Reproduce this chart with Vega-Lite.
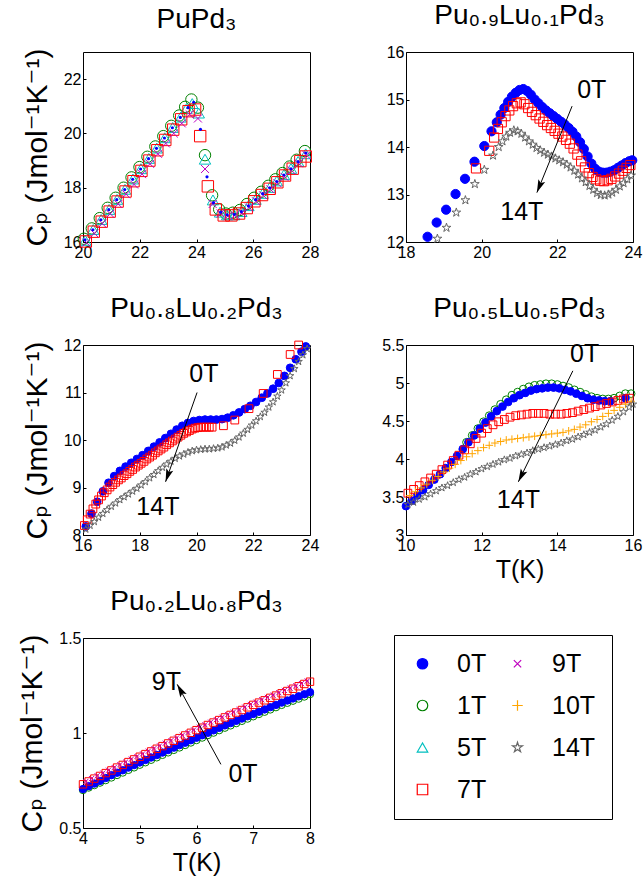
{
"$schema":"https://vega.github.io/schema/vega-lite/v6.json",
"background":"white",
"padding":{"left":17,"top":1,"right":5,"bottom":5},
"config":{
 "font":"Liberation Sans, DejaVu Sans",
 "view":{"stroke":"black","strokeWidth":1},
 "axis":{"domain":false,"grid":false,"format":"~g","labelFont":"Liberation Sans, DejaVu Sans","labelFontSize":16,"labelColor":"black","tickColor":"black","tickSize":-3,"labelPadding":5,"labelFlush":false,"labelOverlap":false,"titleFont":"Liberation Sans, DejaVu Sans","titleFontWeight":"normal","titleColor":"black"},
 "axisY":{"titleFontSize":30,"titlePadding":11},
 "axisX":{"titleFontSize":25,"titlePadding":4},
 "title":{"fontSize":28,"fontWeight":"normal","font":"Liberation Sans, DejaVu Sans","offset":14,"color":"black"},
 "legend":{"orient":"none","legendX":311,"legendY":583,"columns":2,"strokeColor":"black","padding":16,"labelFont":"Liberation Sans","labelFontSize":25,"labelColor":"black","symbolSize":110,"symbolStrokeWidth":1.2,"labelOffset":22,"columnPadding":18,"rowPadding":16}
},
"datasets":{
"p1":[
{"s":"1T","t":20.03,"c":16.12},{"s":"1T","t":20.31,"c":16.5},{"s":"1T","t":20.59,"c":16.88},{"s":"1T","t":20.87,"c":17.26},{"s":"1T","t":21.15,"c":17.63},{"s":"1T","t":21.43,"c":18.0},{"s":"1T","t":21.71,"c":18.38},{"s":"1T","t":21.99,"c":18.76},{"s":"1T","t":22.27,"c":19.14},{"s":"1T","t":22.55,"c":19.52},{"s":"1T","t":22.83,"c":19.9},{"s":"1T","t":23.11,"c":20.28},{"s":"1T","t":23.39,"c":20.66},{"s":"1T","t":23.6,"c":20.98},{"s":"1T","t":23.82,"c":21.25},{"s":"1T","t":24.05,"c":20.95},{"s":"1T","t":24.3,"c":19.2},{"s":"1T","t":24.55,"c":17.72},{"s":"1T","t":24.8,"c":17.2},{"s":"1T","t":25.03,"c":17.05},{"s":"1T","t":25.28,"c":17.08},{"s":"1T","t":25.53,"c":17.18},{"s":"1T","t":25.78,"c":17.4},{"s":"1T","t":26.03,"c":17.63},{"s":"1T","t":26.28,"c":17.85},{"s":"1T","t":26.53,"c":18.07},{"s":"1T","t":26.78,"c":18.31},{"s":"1T","t":27.03,"c":18.54},{"s":"1T","t":27.28,"c":18.78},{"s":"1T","t":27.53,"c":19.03},{"s":"1T","t":27.82,"c":19.35},
{"s":"5T","t":20.08,"c":16.06},{"s":"5T","t":20.36,"c":16.46},{"s":"5T","t":20.64,"c":16.83},{"s":"5T","t":20.92,"c":17.2},{"s":"5T","t":21.2,"c":17.57},{"s":"5T","t":21.48,"c":17.94},{"s":"5T","t":21.76,"c":18.32},{"s":"5T","t":22.04,"c":18.7},{"s":"5T","t":22.32,"c":19.08},{"s":"5T","t":22.6,"c":19.46},{"s":"5T","t":22.88,"c":19.84},{"s":"5T","t":23.16,"c":20.22},{"s":"5T","t":23.44,"c":20.6},{"s":"5T","t":23.65,"c":20.92},{"s":"5T","t":23.85,"c":21.1},{"s":"5T","t":24.08,"c":20.75},{"s":"5T","t":24.3,"c":19.05},{"s":"5T","t":24.58,"c":17.55},{"s":"5T","t":24.83,"c":17.1},{"s":"5T","t":25.08,"c":17.0},{"s":"5T","t":25.33,"c":17.0},{"s":"5T","t":25.58,"c":17.12},{"s":"5T","t":25.83,"c":17.34},{"s":"5T","t":26.08,"c":17.57},{"s":"5T","t":26.33,"c":17.79},{"s":"5T","t":26.58,"c":18.01},{"s":"5T","t":26.83,"c":18.25},{"s":"5T","t":27.08,"c":18.48},{"s":"5T","t":27.33,"c":18.71},{"s":"5T","t":27.58,"c":18.97},{"s":"5T","t":27.85,"c":19.25},
{"s":"7T","t":20.1,"c":16.02},{"s":"7T","t":20.38,"c":16.38},{"s":"7T","t":20.66,"c":16.75},{"s":"7T","t":20.94,"c":17.12},{"s":"7T","t":21.22,"c":17.49},{"s":"7T","t":21.5,"c":17.86},{"s":"7T","t":21.78,"c":18.24},{"s":"7T","t":22.06,"c":18.62},{"s":"7T","t":22.34,"c":19.0},{"s":"7T","t":22.62,"c":19.38},{"s":"7T","t":22.9,"c":19.76},{"s":"7T","t":23.18,"c":20.14},{"s":"7T","t":23.46,"c":20.52},{"s":"7T","t":23.72,"c":20.82},{"s":"7T","t":23.95,"c":20.88},{"s":"7T","t":24.13,"c":19.9},{"s":"7T","t":24.4,"c":18.05},{"s":"7T","t":24.68,"c":17.2},{"s":"7T","t":24.96,"c":16.98},{"s":"7T","t":25.23,"c":16.98},{"s":"7T","t":25.5,"c":17.05},{"s":"7T","t":25.77,"c":17.25},{"s":"7T","t":26.04,"c":17.5},{"s":"7T","t":26.31,"c":17.73},{"s":"7T","t":26.58,"c":17.96},{"s":"7T","t":26.85,"c":18.2},{"s":"7T","t":27.12,"c":18.45},{"s":"7T","t":27.39,"c":18.7},{"s":"7T","t":27.66,"c":18.98},{"s":"7T","t":27.85,"c":19.15},
{"s":"9T","t":20.12,"c":15.98},{"s":"9T","t":20.4,"c":16.32},{"s":"9T","t":20.68,"c":16.68},{"s":"9T","t":20.96,"c":17.04},{"s":"9T","t":21.24,"c":17.4},{"s":"9T","t":21.52,"c":17.76},{"s":"9T","t":21.8,"c":18.12},{"s":"9T","t":22.08,"c":18.5},{"s":"9T","t":22.36,"c":18.88},{"s":"9T","t":22.64,"c":19.25},{"s":"9T","t":22.92,"c":19.63},{"s":"9T","t":23.2,"c":20.0},{"s":"9T","t":23.48,"c":20.37},{"s":"9T","t":23.76,"c":20.7},{"s":"9T","t":24.05,"c":20.55},{"s":"9T","t":24.3,"c":18.69},{"s":"9T","t":24.57,"c":17.4},{"s":"9T","t":24.85,"c":17.05},{"s":"9T","t":25.1,"c":16.95},{"s":"9T","t":25.35,"c":16.98},{"s":"9T","t":25.6,"c":17.07},{"s":"9T","t":25.85,"c":17.27},{"s":"9T","t":26.1,"c":17.5},{"s":"9T","t":26.35,"c":17.72},{"s":"9T","t":26.6,"c":17.94},{"s":"9T","t":26.85,"c":18.17},{"s":"9T","t":27.1,"c":18.4},{"s":"9T","t":27.35,"c":18.64},{"s":"9T","t":27.6,"c":18.9},{"s":"9T","t":27.88,"c":19.2},
{"s":"0T","t":20.07,"c":16.08},{"s":"0T","t":20.35,"c":16.45},{"s":"0T","t":20.63,"c":16.82},{"s":"0T","t":20.91,"c":17.19},{"s":"0T","t":21.19,"c":17.56},{"s":"0T","t":21.47,"c":17.93},{"s":"0T","t":21.75,"c":18.31},{"s":"0T","t":22.03,"c":18.69},{"s":"0T","t":22.31,"c":19.07},{"s":"0T","t":22.59,"c":19.45},{"s":"0T","t":22.87,"c":19.83},{"s":"0T","t":23.15,"c":20.21},{"s":"0T","t":23.43,"c":20.59},{"s":"0T","t":23.7,"c":20.95},{"s":"0T","t":23.9,"c":21.15},{"s":"0T","t":24.14,"c":20.15},{"s":"0T","t":24.37,"c":18.4},{"s":"0T","t":24.6,"c":17.45},{"s":"0T","t":24.85,"c":17.1},{"s":"0T","t":25.08,"c":17.0},{"s":"0T","t":25.33,"c":17.02},{"s":"0T","t":25.58,"c":17.12},{"s":"0T","t":25.83,"c":17.33},{"s":"0T","t":26.08,"c":17.56},{"s":"0T","t":26.33,"c":17.78},{"s":"0T","t":26.58,"c":18.0},{"s":"0T","t":26.83,"c":18.23},{"s":"0T","t":27.08,"c":18.47},{"s":"0T","t":27.33,"c":18.7},{"s":"0T","t":27.58,"c":18.96},{"s":"0T","t":27.85,"c":19.28}
],
"p2":[
{"s":"0T","t":18.57,"c":12.11},{"s":"0T","t":18.81,"c":12.41},{"s":"0T","t":19.06,"c":12.68},{"s":"0T","t":19.31,"c":13.01},{"s":"0T","t":19.56,"c":13.33},{"s":"0T","t":19.81,"c":13.69},{"s":"0T","t":20.07,"c":14.02},{"s":"0T","t":20.26,"c":14.33},{"s":"0T","t":20.4,"c":14.52},{"s":"0T","t":20.5,"c":14.68},{"s":"0T","t":20.6,"c":14.82},{"s":"0T","t":20.7,"c":14.95},{"s":"0T","t":20.8,"c":15.06},{"s":"0T","t":20.9,"c":15.14},{"s":"0T","t":21.0,"c":15.2},{"s":"0T","t":21.1,"c":15.22},{"s":"0T","t":21.2,"c":15.18},{"s":"0T","t":21.3,"c":15.1},{"s":"0T","t":21.4,"c":15.0},{"s":"0T","t":21.5,"c":14.92},{"s":"0T","t":21.6,"c":14.84},{"s":"0T","t":21.7,"c":14.77},{"s":"0T","t":21.8,"c":14.71},{"s":"0T","t":21.9,"c":14.65},{"s":"0T","t":22.0,"c":14.59},{"s":"0T","t":22.1,"c":14.53},{"s":"0T","t":22.2,"c":14.47},{"s":"0T","t":22.3,"c":14.4},{"s":"0T","t":22.4,"c":14.32},{"s":"0T","t":22.5,"c":14.22},{"s":"0T","t":22.6,"c":14.1},{"s":"0T","t":22.7,"c":13.96},{"s":"0T","t":22.8,"c":13.8},{"s":"0T","t":22.9,"c":13.65},{"s":"0T","t":23.0,"c":13.54},{"s":"0T","t":23.1,"c":13.48},{"s":"0T","t":23.2,"c":13.46},{"s":"0T","t":23.3,"c":13.46},{"s":"0T","t":23.4,"c":13.48},{"s":"0T","t":23.5,"c":13.51},{"s":"0T","t":23.6,"c":13.56},{"s":"0T","t":23.7,"c":13.61},{"s":"0T","t":23.8,"c":13.66},{"s":"0T","t":23.9,"c":13.7},{"s":"0T","t":23.98,"c":13.72},
{"s":"7T","t":19.85,"c":13.55},{"s":"7T","t":20.2,"c":13.92},{"s":"7T","t":20.33,"c":14.2},{"s":"7T","t":20.43,"c":14.38},{"s":"7T","t":20.53,"c":14.52},{"s":"7T","t":20.63,"c":14.65},{"s":"7T","t":20.73,"c":14.77},{"s":"7T","t":20.83,"c":14.86},{"s":"7T","t":20.93,"c":14.92},{"s":"7T","t":21.03,"c":14.94},{"s":"7T","t":21.13,"c":14.9},{"s":"7T","t":21.23,"c":14.82},{"s":"7T","t":21.33,"c":14.74},{"s":"7T","t":21.43,"c":14.67},{"s":"7T","t":21.53,"c":14.6},{"s":"7T","t":21.63,"c":14.53},{"s":"7T","t":21.73,"c":14.46},{"s":"7T","t":21.83,"c":14.4},{"s":"7T","t":21.93,"c":14.34},{"s":"7T","t":22.03,"c":14.28},{"s":"7T","t":22.13,"c":14.22},{"s":"7T","t":22.23,"c":14.15},{"s":"7T","t":22.33,"c":14.07},{"s":"7T","t":22.43,"c":13.97},{"s":"7T","t":22.53,"c":13.84},{"s":"7T","t":22.63,"c":13.7},{"s":"7T","t":22.73,"c":13.57},{"s":"7T","t":22.83,"c":13.45},{"s":"7T","t":22.93,"c":13.37},{"s":"7T","t":23.03,"c":13.32},{"s":"7T","t":23.13,"c":13.29},{"s":"7T","t":23.23,"c":13.28},{"s":"7T","t":23.33,"c":13.3},{"s":"7T","t":23.43,"c":13.33},{"s":"7T","t":23.53,"c":13.38},{"s":"7T","t":23.63,"c":13.44},{"s":"7T","t":23.73,"c":13.5},{"s":"7T","t":23.83,"c":13.56},{"s":"7T","t":23.93,"c":13.62},
{"s":"14T","t":18.83,"c":12.07},{"s":"14T","t":19.07,"c":12.3},{"s":"14T","t":19.33,"c":12.62},{"s":"14T","t":19.57,"c":12.88},{"s":"14T","t":19.82,"c":13.22},{"s":"14T","t":20.07,"c":13.52},{"s":"14T","t":20.3,"c":13.82},{"s":"14T","t":20.45,"c":14.0},{"s":"14T","t":20.55,"c":14.12},{"s":"14T","t":20.65,"c":14.22},{"s":"14T","t":20.75,"c":14.3},{"s":"14T","t":20.85,"c":14.35},{"s":"14T","t":20.95,"c":14.33},{"s":"14T","t":21.05,"c":14.28},{"s":"14T","t":21.15,"c":14.2},{"s":"14T","t":21.25,"c":14.12},{"s":"14T","t":21.35,"c":14.05},{"s":"14T","t":21.45,"c":13.98},{"s":"14T","t":21.55,"c":13.93},{"s":"14T","t":21.65,"c":13.88},{"s":"14T","t":21.75,"c":13.84},{"s":"14T","t":21.85,"c":13.8},{"s":"14T","t":21.95,"c":13.76},{"s":"14T","t":22.05,"c":13.72},{"s":"14T","t":22.15,"c":13.68},{"s":"14T","t":22.25,"c":13.63},{"s":"14T","t":22.35,"c":13.57},{"s":"14T","t":22.45,"c":13.5},{"s":"14T","t":22.55,"c":13.42},{"s":"14T","t":22.65,"c":13.34},{"s":"14T","t":22.75,"c":13.26},{"s":"14T","t":22.85,"c":13.18},{"s":"14T","t":22.95,"c":13.1},{"s":"14T","t":23.05,"c":13.03},{"s":"14T","t":23.15,"c":12.99},{"s":"14T","t":23.25,"c":12.98},{"s":"14T","t":23.35,"c":13.0},{"s":"14T","t":23.45,"c":13.04},{"s":"14T","t":23.55,"c":13.1},{"s":"14T","t":23.65,"c":13.17},{"s":"14T","t":23.75,"c":13.24},{"s":"14T","t":23.85,"c":13.32},{"s":"14T","t":23.95,"c":13.4}
],
"p3":[
{"s":"0T","t":16.1,"c":8.18},{"s":"0T","t":16.3,"c":8.45},{"s":"0T","t":16.5,"c":8.7},{"s":"0T","t":16.7,"c":8.92},{"s":"0T","t":16.9,"c":9.1},{"s":"0T","t":17.1,"c":9.24},{"s":"0T","t":17.3,"c":9.35},{"s":"0T","t":17.5,"c":9.44},{"s":"0T","t":17.7,"c":9.52},{"s":"0T","t":17.9,"c":9.6},{"s":"0T","t":18.1,"c":9.68},{"s":"0T","t":18.3,"c":9.77},{"s":"0T","t":18.5,"c":9.86},{"s":"0T","t":18.7,"c":9.95},{"s":"0T","t":18.9,"c":10.04},{"s":"0T","t":19.1,"c":10.13},{"s":"0T","t":19.3,"c":10.22},{"s":"0T","t":19.5,"c":10.3},{"s":"0T","t":19.7,"c":10.36},{"s":"0T","t":19.9,"c":10.4},{"s":"0T","t":20.1,"c":10.42},{"s":"0T","t":20.3,"c":10.43},{"s":"0T","t":20.5,"c":10.43},{"s":"0T","t":20.7,"c":10.43},{"s":"0T","t":20.9,"c":10.44},{"s":"0T","t":21.1,"c":10.47},{"s":"0T","t":21.3,"c":10.52},{"s":"0T","t":21.5,"c":10.58},{"s":"0T","t":21.7,"c":10.65},{"s":"0T","t":21.9,"c":10.72},{"s":"0T","t":22.1,"c":10.8},{"s":"0T","t":22.3,"c":10.89},{"s":"0T","t":22.5,"c":10.98},{"s":"0T","t":22.7,"c":11.08},{"s":"0T","t":22.9,"c":11.2},{"s":"0T","t":23.1,"c":11.35},{"s":"0T","t":23.3,"c":11.52},{"s":"0T","t":23.5,"c":11.7},{"s":"0T","t":23.7,"c":11.86},{"s":"0T","t":23.85,"c":11.97},
{"s":"7T","t":16.05,"c":8.2},{"s":"7T","t":16.15,"c":8.32},{"s":"7T","t":16.25,"c":8.44},{"s":"7T","t":16.35,"c":8.55},{"s":"7T","t":16.45,"c":8.65},{"s":"7T","t":16.55,"c":8.74},{"s":"7T","t":16.65,"c":8.82},{"s":"7T","t":16.75,"c":8.89},{"s":"7T","t":16.85,"c":8.95},{"s":"7T","t":16.95,"c":9.01},{"s":"7T","t":17.05,"c":9.06},{"s":"7T","t":17.15,"c":9.11},{"s":"7T","t":17.25,"c":9.16},{"s":"7T","t":17.35,"c":9.2},{"s":"7T","t":17.45,"c":9.25},{"s":"7T","t":17.55,"c":9.29},{"s":"7T","t":17.65,"c":9.34},{"s":"7T","t":17.75,"c":9.38},{"s":"7T","t":17.85,"c":9.43},{"s":"7T","t":17.95,"c":9.47},{"s":"7T","t":18.05,"c":9.51},{"s":"7T","t":18.15,"c":9.55},{"s":"7T","t":18.25,"c":9.6},{"s":"7T","t":18.35,"c":9.64},{"s":"7T","t":18.45,"c":9.68},{"s":"7T","t":18.55,"c":9.73},{"s":"7T","t":18.65,"c":9.77},{"s":"7T","t":18.75,"c":9.81},{"s":"7T","t":18.85,"c":9.85},{"s":"7T","t":18.95,"c":9.9},{"s":"7T","t":19.05,"c":9.94},{"s":"7T","t":19.15,"c":9.98},{"s":"7T","t":19.25,"c":10.02},{"s":"7T","t":19.35,"c":10.06},{"s":"7T","t":19.45,"c":10.1},{"s":"7T","t":19.55,"c":10.14},{"s":"7T","t":19.65,"c":10.17},{"s":"7T","t":19.75,"c":10.2},{"s":"7T","t":19.85,"c":10.23},{"s":"7T","t":19.95,"c":10.25},{"s":"7T","t":20.05,"c":10.26},{"s":"7T","t":20.15,"c":10.27},{"s":"7T","t":20.25,"c":10.27},{"s":"7T","t":20.35,"c":10.27},{"s":"7T","t":20.45,"c":10.27},{"s":"7T","t":20.55,"c":10.27},{"s":"7T","t":20.95,"c":10.3},{"s":"7T","t":21.35,"c":10.42},{"s":"7T","t":21.85,"c":10.66},{"s":"7T","t":22.35,"c":10.98},{"s":"7T","t":22.85,"c":11.38},{"s":"7T","t":23.3,"c":11.8},{"s":"7T","t":23.6,"c":12.0},
{"s":"14T","t":16.1,"c":8.12},{"s":"14T","t":16.25,"c":8.2},{"s":"14T","t":16.4,"c":8.28},{"s":"14T","t":16.55,"c":8.37},{"s":"14T","t":16.7,"c":8.45},{"s":"14T","t":16.85,"c":8.53},{"s":"14T","t":17.0,"c":8.6},{"s":"14T","t":17.15,"c":8.67},{"s":"14T","t":17.3,"c":8.74},{"s":"14T","t":17.45,"c":8.8},{"s":"14T","t":17.6,"c":8.86},{"s":"14T","t":17.75,"c":8.92},{"s":"14T","t":17.9,"c":8.98},{"s":"14T","t":18.05,"c":9.05},{"s":"14T","t":18.2,"c":9.12},{"s":"14T","t":18.35,"c":9.2},{"s":"14T","t":18.5,"c":9.27},{"s":"14T","t":18.65,"c":9.35},{"s":"14T","t":18.8,"c":9.42},{"s":"14T","t":18.95,"c":9.49},{"s":"14T","t":19.1,"c":9.55},{"s":"14T","t":19.25,"c":9.61},{"s":"14T","t":19.4,"c":9.66},{"s":"14T","t":19.55,"c":9.7},{"s":"14T","t":19.7,"c":9.74},{"s":"14T","t":19.85,"c":9.77},{"s":"14T","t":20.0,"c":9.79},{"s":"14T","t":20.15,"c":9.8},{"s":"14T","t":20.3,"c":9.81},{"s":"14T","t":20.45,"c":9.81},{"s":"14T","t":20.6,"c":9.82},{"s":"14T","t":20.75,"c":9.83},{"s":"14T","t":20.9,"c":9.85},{"s":"14T","t":21.05,"c":9.89},{"s":"14T","t":21.2,"c":9.93},{"s":"14T","t":21.35,"c":9.99},{"s":"14T","t":21.5,"c":10.06},{"s":"14T","t":21.65,"c":10.14},{"s":"14T","t":21.8,"c":10.22},{"s":"14T","t":21.95,"c":10.31},{"s":"14T","t":22.1,"c":10.4},{"s":"14T","t":22.25,"c":10.49},{"s":"14T","t":22.4,"c":10.58},{"s":"14T","t":22.55,"c":10.69},{"s":"14T","t":22.7,"c":10.8},{"s":"14T","t":22.85,"c":10.92},{"s":"14T","t":23.0,"c":11.05},{"s":"14T","t":23.15,"c":11.2},{"s":"14T","t":23.3,"c":11.35},{"s":"14T","t":23.45,"c":11.5},{"s":"14T","t":23.6,"c":11.65},{"s":"14T","t":23.75,"c":11.79},{"s":"14T","t":23.9,"c":11.92}
],
"p4":[
{"s":"1T","t":11.6,"c":4.22},{"s":"1T","t":11.75,"c":4.31},{"s":"1T","t":11.9,"c":4.4},{"s":"1T","t":12.05,"c":4.49},{"s":"1T","t":12.2,"c":4.57},{"s":"1T","t":12.35,"c":4.65},{"s":"1T","t":12.5,"c":4.72},{"s":"1T","t":12.65,"c":4.78},{"s":"1T","t":12.8,"c":4.84},{"s":"1T","t":12.95,"c":4.88},{"s":"1T","t":13.1,"c":4.92},{"s":"1T","t":13.25,"c":4.95},{"s":"1T","t":13.4,"c":4.97},{"s":"1T","t":13.55,"c":4.98},{"s":"1T","t":13.7,"c":4.99},{"s":"1T","t":13.85,"c":4.99},{"s":"1T","t":14.0,"c":4.98},{"s":"1T","t":14.15,"c":4.96},{"s":"1T","t":14.3,"c":4.94},{"s":"1T","t":14.45,"c":4.91},{"s":"1T","t":14.6,"c":4.88},{"s":"1T","t":14.75,"c":4.85},{"s":"1T","t":14.9,"c":4.82},{"s":"1T","t":15.05,"c":4.8},{"s":"1T","t":15.2,"c":4.79},{"s":"1T","t":15.35,"c":4.79},{"s":"1T","t":15.5,"c":4.8},{"s":"1T","t":15.65,"c":4.83},{"s":"1T","t":15.8,"c":4.86},{"s":"1T","t":15.95,"c":4.86},
{"s":"0T","t":10.0,"c":3.38},{"s":"0T","t":10.15,"c":3.45},{"s":"0T","t":10.3,"c":3.52},{"s":"0T","t":10.45,"c":3.59},{"s":"0T","t":10.6,"c":3.66},{"s":"0T","t":10.75,"c":3.73},{"s":"0T","t":10.9,"c":3.8},{"s":"0T","t":11.05,"c":3.88},{"s":"0T","t":11.2,"c":3.96},{"s":"0T","t":11.35,"c":4.04},{"s":"0T","t":11.5,"c":4.13},{"s":"0T","t":11.65,"c":4.22},{"s":"0T","t":11.8,"c":4.31},{"s":"0T","t":11.95,"c":4.4},{"s":"0T","t":12.1,"c":4.48},{"s":"0T","t":12.25,"c":4.56},{"s":"0T","t":12.4,"c":4.63},{"s":"0T","t":12.55,"c":4.69},{"s":"0T","t":12.7,"c":4.75},{"s":"0T","t":12.85,"c":4.8},{"s":"0T","t":13.0,"c":4.84},{"s":"0T","t":13.15,"c":4.87},{"s":"0T","t":13.3,"c":4.9},{"s":"0T","t":13.45,"c":4.92},{"s":"0T","t":13.6,"c":4.93},{"s":"0T","t":13.75,"c":4.94},{"s":"0T","t":13.9,"c":4.94},{"s":"0T","t":14.05,"c":4.93},{"s":"0T","t":14.2,"c":4.91},{"s":"0T","t":14.35,"c":4.89},{"s":"0T","t":14.5,"c":4.86},{"s":"0T","t":14.65,"c":4.83},{"s":"0T","t":14.8,"c":4.8},{"s":"0T","t":14.95,"c":4.78},{"s":"0T","t":15.1,"c":4.77},{"s":"0T","t":15.25,"c":4.76},{"s":"0T","t":15.4,"c":4.76},{"s":"0T","t":15.8,"c":4.8},
{"s":"7T","t":10.05,"c":3.55},{"s":"7T","t":10.2,"c":3.6},{"s":"7T","t":10.35,"c":3.65},{"s":"7T","t":10.5,"c":3.7},{"s":"7T","t":10.65,"c":3.75},{"s":"7T","t":10.8,"c":3.8},{"s":"7T","t":10.95,"c":3.86},{"s":"7T","t":11.1,"c":3.92},{"s":"7T","t":11.25,"c":3.98},{"s":"7T","t":11.4,"c":4.05},{"s":"7T","t":11.55,"c":4.12},{"s":"7T","t":11.7,"c":4.2},{"s":"7T","t":11.85,"c":4.27},{"s":"7T","t":12.0,"c":4.34},{"s":"7T","t":12.15,"c":4.4},{"s":"7T","t":12.3,"c":4.45},{"s":"7T","t":12.45,"c":4.49},{"s":"7T","t":12.6,"c":4.52},{"s":"7T","t":12.75,"c":4.55},{"s":"7T","t":12.9,"c":4.57},{"s":"7T","t":13.05,"c":4.58},{"s":"7T","t":13.2,"c":4.59},{"s":"7T","t":13.35,"c":4.6},{"s":"7T","t":13.5,"c":4.6},{"s":"7T","t":13.65,"c":4.6},{"s":"7T","t":13.8,"c":4.59},{"s":"7T","t":13.95,"c":4.59},{"s":"7T","t":14.1,"c":4.59},{"s":"7T","t":14.25,"c":4.6},{"s":"7T","t":14.4,"c":4.61},{"s":"7T","t":14.55,"c":4.63},{"s":"7T","t":14.7,"c":4.65},{"s":"7T","t":14.85,"c":4.67},{"s":"7T","t":15.0,"c":4.69},{"s":"7T","t":15.15,"c":4.71},{"s":"7T","t":15.3,"c":4.73},{"s":"7T","t":15.45,"c":4.75},{"s":"7T","t":15.6,"c":4.77},{"s":"7T","t":15.75,"c":4.79},{"s":"7T","t":15.9,"c":4.8},
{"s":"10T","t":10.1,"c":3.52},{"s":"10T","t":10.25,"c":3.57},{"s":"10T","t":10.4,"c":3.62},{"s":"10T","t":10.55,"c":3.67},{"s":"10T","t":10.7,"c":3.72},{"s":"10T","t":10.85,"c":3.77},{"s":"10T","t":11.0,"c":3.83},{"s":"10T","t":11.15,"c":3.88},{"s":"10T","t":11.3,"c":3.93},{"s":"10T","t":11.45,"c":3.98},{"s":"10T","t":11.6,"c":4.03},{"s":"10T","t":11.75,"c":4.07},{"s":"10T","t":11.9,"c":4.11},{"s":"10T","t":12.05,"c":4.15},{"s":"10T","t":12.2,"c":4.18},{"s":"10T","t":12.35,"c":4.21},{"s":"10T","t":12.5,"c":4.23},{"s":"10T","t":12.65,"c":4.25},{"s":"10T","t":12.8,"c":4.26},{"s":"10T","t":12.95,"c":4.27},{"s":"10T","t":13.1,"c":4.28},{"s":"10T","t":13.25,"c":4.29},{"s":"10T","t":13.4,"c":4.3},{"s":"10T","t":13.55,"c":4.31},{"s":"10T","t":13.7,"c":4.32},{"s":"10T","t":13.85,"c":4.33},{"s":"10T","t":14.0,"c":4.34},{"s":"10T","t":14.15,"c":4.35},{"s":"10T","t":14.3,"c":4.37},{"s":"10T","t":14.45,"c":4.39},{"s":"10T","t":14.6,"c":4.42},{"s":"10T","t":14.75,"c":4.45},{"s":"10T","t":14.9,"c":4.49},{"s":"10T","t":15.05,"c":4.52},{"s":"10T","t":15.2,"c":4.56},{"s":"10T","t":15.35,"c":4.6},{"s":"10T","t":15.5,"c":4.64},{"s":"10T","t":15.65,"c":4.68},{"s":"10T","t":15.8,"c":4.72},{"s":"10T","t":15.95,"c":4.76},
{"s":"14T","t":10.05,"c":3.4},{"s":"14T","t":10.2,"c":3.43},{"s":"14T","t":10.35,"c":3.47},{"s":"14T","t":10.5,"c":3.5},{"s":"14T","t":10.65,"c":3.54},{"s":"14T","t":10.8,"c":3.58},{"s":"14T","t":10.95,"c":3.62},{"s":"14T","t":11.1,"c":3.65},{"s":"14T","t":11.25,"c":3.69},{"s":"14T","t":11.4,"c":3.73},{"s":"14T","t":11.55,"c":3.76},{"s":"14T","t":11.7,"c":3.8},{"s":"14T","t":11.85,"c":3.83},{"s":"14T","t":12.0,"c":3.87},{"s":"14T","t":12.15,"c":3.9},{"s":"14T","t":12.3,"c":3.93},{"s":"14T","t":12.45,"c":3.96},{"s":"14T","t":12.6,"c":3.99},{"s":"14T","t":12.75,"c":4.01},{"s":"14T","t":12.9,"c":4.04},{"s":"14T","t":13.05,"c":4.06},{"s":"14T","t":13.2,"c":4.08},{"s":"14T","t":13.35,"c":4.11},{"s":"14T","t":13.5,"c":4.13},{"s":"14T","t":13.65,"c":4.15},{"s":"14T","t":13.8,"c":4.17},{"s":"14T","t":13.95,"c":4.19},{"s":"14T","t":14.1,"c":4.21},{"s":"14T","t":14.25,"c":4.24},{"s":"14T","t":14.4,"c":4.26},{"s":"14T","t":14.55,"c":4.29},{"s":"14T","t":14.7,"c":4.32},{"s":"14T","t":14.85,"c":4.35},{"s":"14T","t":15.0,"c":4.38},{"s":"14T","t":15.15,"c":4.42},{"s":"14T","t":15.3,"c":4.46},{"s":"14T","t":15.45,"c":4.51},{"s":"14T","t":15.6,"c":4.56},{"s":"14T","t":15.75,"c":4.62},{"s":"14T","t":15.9,"c":4.68},{"s":"14T","t":16.0,"c":4.72}
],
"p5":[
{"s":"1T","t":4.0,"c":0.7},{"s":"1T","t":4.1,"c":0.713},{"s":"1T","t":4.2,"c":0.726},{"s":"1T","t":4.3,"c":0.739},{"s":"1T","t":4.4,"c":0.752},{"s":"1T","t":4.5,"c":0.766},{"s":"1T","t":4.6,"c":0.779},{"s":"1T","t":4.7,"c":0.792},{"s":"1T","t":4.8,"c":0.806},{"s":"1T","t":4.9,"c":0.819},{"s":"1T","t":5.0,"c":0.833},{"s":"1T","t":5.1,"c":0.846},{"s":"1T","t":5.2,"c":0.859},{"s":"1T","t":5.3,"c":0.872},{"s":"1T","t":5.4,"c":0.885},{"s":"1T","t":5.5,"c":0.898},{"s":"1T","t":5.6,"c":0.911},{"s":"1T","t":5.7,"c":0.924},{"s":"1T","t":5.8,"c":0.937},{"s":"1T","t":5.9,"c":0.95},{"s":"1T","t":6.0,"c":0.963},{"s":"1T","t":6.1,"c":0.976},{"s":"1T","t":6.2,"c":0.989},{"s":"1T","t":6.3,"c":1.002},{"s":"1T","t":6.4,"c":1.015},{"s":"1T","t":6.5,"c":1.028},{"s":"1T","t":6.6,"c":1.04},{"s":"1T","t":6.7,"c":1.052},{"s":"1T","t":6.8,"c":1.064},{"s":"1T","t":6.9,"c":1.076},{"s":"1T","t":7.0,"c":1.088},{"s":"1T","t":7.1,"c":1.1},{"s":"1T","t":7.2,"c":1.112},{"s":"1T","t":7.3,"c":1.124},{"s":"1T","t":7.4,"c":1.136},{"s":"1T","t":7.5,"c":1.148},{"s":"1T","t":7.6,"c":1.159},{"s":"1T","t":7.7,"c":1.17},{"s":"1T","t":7.8,"c":1.181},{"s":"1T","t":7.9,"c":1.192},{"s":"1T","t":8.0,"c":1.205},
{"s":"0T","t":4.0,"c":0.705},{"s":"0T","t":4.1,"c":0.72},{"s":"0T","t":4.2,"c":0.734},{"s":"0T","t":4.3,"c":0.748},{"s":"0T","t":4.4,"c":0.763},{"s":"0T","t":4.5,"c":0.778},{"s":"0T","t":4.6,"c":0.791},{"s":"0T","t":4.7,"c":0.804},{"s":"0T","t":4.8,"c":0.818},{"s":"0T","t":4.9,"c":0.831},{"s":"0T","t":5.0,"c":0.845},{"s":"0T","t":5.1,"c":0.858},{"s":"0T","t":5.2,"c":0.871},{"s":"0T","t":5.3,"c":0.884},{"s":"0T","t":5.4,"c":0.897},{"s":"0T","t":5.5,"c":0.91},{"s":"0T","t":5.6,"c":0.923},{"s":"0T","t":5.7,"c":0.936},{"s":"0T","t":5.8,"c":0.949},{"s":"0T","t":5.9,"c":0.962},{"s":"0T","t":6.0,"c":0.975},{"s":"0T","t":6.1,"c":0.988},{"s":"0T","t":6.2,"c":1.001},{"s":"0T","t":6.3,"c":1.014},{"s":"0T","t":6.4,"c":1.027},{"s":"0T","t":6.5,"c":1.04},{"s":"0T","t":6.6,"c":1.052},{"s":"0T","t":6.7,"c":1.064},{"s":"0T","t":6.8,"c":1.076},{"s":"0T","t":6.9,"c":1.088},{"s":"0T","t":7.0,"c":1.1},{"s":"0T","t":7.1,"c":1.112},{"s":"0T","t":7.2,"c":1.124},{"s":"0T","t":7.3,"c":1.136},{"s":"0T","t":7.4,"c":1.148},{"s":"0T","t":7.5,"c":1.16},{"s":"0T","t":7.6,"c":1.171},{"s":"0T","t":7.7,"c":1.182},{"s":"0T","t":7.8,"c":1.193},{"s":"0T","t":7.9,"c":1.204},{"s":"0T","t":8.0,"c":1.215},
{"s":"7T","t":4.0,"c":0.73},{"s":"7T","t":4.1,"c":0.745},{"s":"7T","t":4.2,"c":0.76},{"s":"7T","t":4.3,"c":0.774},{"s":"7T","t":4.4,"c":0.789},{"s":"7T","t":4.5,"c":0.803},{"s":"7T","t":4.6,"c":0.818},{"s":"7T","t":4.7,"c":0.832},{"s":"7T","t":4.8,"c":0.847},{"s":"7T","t":4.9,"c":0.861},{"s":"7T","t":5.0,"c":0.875},{"s":"7T","t":5.1,"c":0.889},{"s":"7T","t":5.2,"c":0.903},{"s":"7T","t":5.3,"c":0.917},{"s":"7T","t":5.4,"c":0.931},{"s":"7T","t":5.5,"c":0.945},{"s":"7T","t":5.6,"c":0.959},{"s":"7T","t":5.7,"c":0.973},{"s":"7T","t":5.8,"c":0.987},{"s":"7T","t":5.9,"c":1.001},{"s":"7T","t":6.0,"c":1.015},{"s":"7T","t":6.1,"c":1.028},{"s":"7T","t":6.2,"c":1.042},{"s":"7T","t":6.3,"c":1.055},{"s":"7T","t":6.4,"c":1.068},{"s":"7T","t":6.5,"c":1.082},{"s":"7T","t":6.6,"c":1.095},{"s":"7T","t":6.7,"c":1.108},{"s":"7T","t":6.8,"c":1.121},{"s":"7T","t":6.9,"c":1.135},{"s":"7T","t":7.0,"c":1.148},{"s":"7T","t":7.1,"c":1.16},{"s":"7T","t":7.2,"c":1.172},{"s":"7T","t":7.3,"c":1.185},{"s":"7T","t":7.4,"c":1.197},{"s":"7T","t":7.5,"c":1.209},{"s":"7T","t":7.6,"c":1.221},{"s":"7T","t":7.7,"c":1.233},{"s":"7T","t":7.8,"c":1.246},{"s":"7T","t":7.9,"c":1.258},{"s":"7T","t":8.0,"c":1.27},
{"s":"9T","t":4.05,"c":0.745},{"s":"9T","t":4.15,"c":0.76},{"s":"9T","t":4.25,"c":0.775},{"s":"9T","t":4.35,"c":0.789},{"s":"9T","t":4.45,"c":0.804},{"s":"9T","t":4.55,"c":0.818},{"s":"9T","t":4.65,"c":0.833},{"s":"9T","t":4.75,"c":0.847},{"s":"9T","t":4.85,"c":0.862},{"s":"9T","t":4.95,"c":0.876},{"s":"9T","t":5.05,"c":0.89},{"s":"9T","t":5.15,"c":0.904},{"s":"9T","t":5.25,"c":0.918},{"s":"9T","t":5.35,"c":0.932},{"s":"9T","t":5.45,"c":0.946},{"s":"9T","t":5.55,"c":0.96},{"s":"9T","t":5.65,"c":0.974},{"s":"9T","t":5.75,"c":0.988},{"s":"9T","t":5.85,"c":1.002},{"s":"9T","t":5.95,"c":1.016},{"s":"9T","t":6.05,"c":1.03},{"s":"9T","t":6.15,"c":1.043},{"s":"9T","t":6.25,"c":1.057},{"s":"9T","t":6.35,"c":1.07},{"s":"9T","t":6.45,"c":1.083},{"s":"9T","t":6.55,"c":1.097},{"s":"9T","t":6.65,"c":1.11},{"s":"9T","t":6.75,"c":1.123},{"s":"9T","t":6.85,"c":1.136},{"s":"9T","t":6.95,"c":1.15},{"s":"9T","t":7.05,"c":1.162},{"s":"9T","t":7.15,"c":1.175},{"s":"9T","t":7.25,"c":1.187},{"s":"9T","t":7.35,"c":1.199},{"s":"9T","t":7.45,"c":1.212},{"s":"9T","t":7.55,"c":1.224},{"s":"9T","t":7.65,"c":1.236},{"s":"9T","t":7.75,"c":1.248},{"s":"9T","t":7.85,"c":1.26},{"s":"9T","t":7.95,"c":1.273}
]
},
"columns":2,
"spacing":{"row":103,"column":96},
"bounds":"flush",
"concat":[
{
 "width":227,"height":190,
 "title":"PuPd₃",
 "data":{"name":"p1"},
 "encoding":{
  "x":{"field":"t","type":"quantitative","scale":{"domain":[20,28],"nice":false},"axis":{"values":[20,22,24,26,28],"title":null}},
  "y":{"field":"c","type":"quantitative","scale":{"domain":[16,23],"nice":false},"axis":{"values":[16,18,20,22],"title":"Cₚ (Jmol⁻¹K⁻¹)"}},
  "shape":{"field":"s","type":"nominal","title":null,"scale":{"domain":["0T","1T","5T","7T","9T","10T","14T"],"range":["circle","circle","triangle-up","square","M-0.7,-0.7L0.7,0.7M-0.7,0.7L0.7,-0.7","M-1,0L1,0M0,-1L0,1","M0,-1L0.225,-0.309L0.951,-0.309L0.363,0.118L0.588,0.809L0,0.382L-0.588,0.809L-0.363,0.118L-0.951,-0.309L-0.225,-0.309Z"]},"legend":{"encode":{"symbols":{"update":{"size":{"signal":"datum.value === '0T' ? 45 : 125"}}}}}},
  "fill":{"field":"s","type":"nominal","title":null,"scale":{"domain":["0T","1T","5T","7T","9T","10T","14T"],"range":["#0000ff","transparent","transparent","transparent","transparent","transparent","transparent"]}},
  "stroke":{"field":"s","type":"nominal","title":null,"scale":{"domain":["0T","1T","5T","7T","9T","10T","14T"],"range":["#0000ff","#008000","#00bfbf","#ff0000","#bf00bf","#ffa500","#666666"]}}
 },
 "layer":[
  {"transform":[{"filter":"datum.s != '0T'"}],"mark":{"type":"point","size":130,"strokeWidth":1,"opacity":1}},
  {"transform":[{"filter":"datum.s == '0T'"}],"mark":{"type":"point","size":10,"strokeWidth":0,"opacity":1}}
 ]
},
{
 "width":227,"height":190,
 "title":"Pu₀.₉Lu₀.₁Pd₃",
 "encoding":{
  "x":{"field":"t","type":"quantitative","scale":{"domain":[18,24],"nice":false},"axis":{"values":[18,20,22,24],"title":null}},
  "y":{"field":"c","type":"quantitative","scale":{"domain":[12,16],"nice":false},"axis":{"values":[12,13,14,15,16],"title":null}}
 },
 "layer":[
  {"data":{"name":"p2"},"mark":{"type":"point","size":85,"strokeWidth":1,"opacity":1},
   "encoding":{"shape":{"field":"s","type":"nominal","title":null},"fill":{"field":"s","type":"nominal","title":null},"stroke":{"field":"s","type":"nominal","title":null}}},
  {"data":{"values":[{"t":22.39,"c":14.86,"t2":21.46,"c2":13.04}]},"mark":{"type":"rule","color":"black","strokeWidth":1},
   "encoding":{"x2":{"field":"t2"},"y2":{"field":"c2"}}},
  {"data":{"values":[{"t":21.46,"c":13.04}]},"mark":{"type":"point","shape":"M0,0L-0.28,1L0,0.8L0.28,1Z","size":676,"angle":202,"filled":true,"color":"black","opacity":1,"strokeWidth":0},"encoding":{}},
  {"data":{"values":[{"t":22.91,"c":15.2,"label":"0T"},{"t":21.06,"c":12.64,"label":"14T"}]},"mark":{"type":"text","fontSize":25,"font":"Liberation Sans","color":"black"},
   "encoding":{"text":{"field":"label"}}}
 ]
},
{
 "width":227,"height":190,
 "title":"Pu₀.₈Lu₀.₂Pd₃",
 "encoding":{
  "x":{"field":"t","type":"quantitative","scale":{"domain":[16,24],"nice":false},"axis":{"values":[16,18,20,22,24],"title":null}},
  "y":{"field":"c","type":"quantitative","scale":{"domain":[8,12],"nice":false},"axis":{"values":[8,9,10,11,12],"title":"Cₚ (Jmol⁻¹K⁻¹)"}}
 },
 "layer":[
  {"data":{"name":"p3"},"mark":{"type":"point","size":60,"strokeWidth":1,"opacity":1},
   "encoding":{"shape":{"field":"s","type":"nominal","title":null},"fill":{"field":"s","type":"nominal","title":null},"stroke":{"field":"s","type":"nominal","title":null}}},
  {"data":{"values":[{"t":20.02,"c":11.0,"t2":18.91,"c2":9.12}]},"mark":{"type":"rule","color":"black","strokeWidth":1},
   "encoding":{"x2":{"field":"t2"},"y2":{"field":"c2"}}},
  {"data":{"values":[{"t":18.91,"c":9.12}]},"mark":{"type":"point","shape":"M0,0L-0.28,1L0,0.8L0.28,1Z","size":676,"angle":199,"filled":true,"color":"black","opacity":1,"strokeWidth":0},"encoding":{}},
  {"data":{"values":[{"t":20.26,"c":11.38,"label":"0T"},{"t":18.64,"c":8.59,"label":"14T"}]},"mark":{"type":"text","fontSize":25,"font":"Liberation Sans","color":"black"},
   "encoding":{"text":{"field":"label"}}}
 ]
},
{
 "width":227,"height":190,
 "title":"Pu₀.₅Lu₀.₅Pd₃",
 "encoding":{
  "x":{"field":"t","type":"quantitative","scale":{"domain":[10,16],"nice":false},"axis":{"values":[10,12,14,16],"title":"T(K)"}},
  "y":{"field":"c","type":"quantitative","scale":{"domain":[3,5.5],"nice":false},"axis":{"values":[3,3.5,4,4.5,5,5.5],"title":null}}
 },
 "layer":[
  {"data":{"name":"p4"},"mark":{"type":"point","size":60,"strokeWidth":1,"opacity":1},
   "encoding":{"shape":{"field":"s","type":"nominal","title":null},"fill":{"field":"s","type":"nominal","title":null},"stroke":{"field":"s","type":"nominal","title":null}}},
  {"data":{"values":[{"t":14.41,"c":5.16,"t2":12.97,"c2":3.7}]},"mark":{"type":"rule","color":"black","strokeWidth":1},
   "encoding":{"x2":{"field":"t2"},"y2":{"field":"c2"}}},
  {"data":{"values":[{"t":12.97,"c":3.7}]},"mark":{"type":"point","shape":"M0,0L-0.28,1L0,0.8L0.28,1Z","size":676,"angle":206,"filled":true,"color":"black","opacity":1,"strokeWidth":0},"encoding":{}},
  {"data":{"values":[{"t":14.72,"c":5.38,"label":"0T"},{"t":12.97,"c":3.46,"label":"14T"}]},"mark":{"type":"text","fontSize":25,"font":"Liberation Sans","color":"black"},
   "encoding":{"text":{"field":"label"}}}
 ]
},
{
 "width":227,"height":190,
 "title":"Pu₀.₂Lu₀.₈Pd₃",
 "encoding":{
  "x":{"field":"t","type":"quantitative","scale":{"domain":[4,8],"nice":false},"axis":{"values":[4,5,6,7,8],"title":"T(K)"}},
  "y":{"field":"c","type":"quantitative","scale":{"domain":[0.5,1.5],"nice":false},"axis":{"values":[0.5,1,1.5],"title":"Cₚ (Jmol⁻¹K⁻¹)"}}
 },
 "layer":[
  {"data":{"name":"p5"},"mark":{"type":"point","size":55,"strokeWidth":1,"opacity":1},
   "encoding":{"shape":{"field":"s","type":"nominal","title":null},"fill":{"field":"s","type":"nominal","title":null},"stroke":{"field":"s","type":"nominal","title":null}}},
  {"data":{"values":[{"t":6.43,"c":0.835,"t2":5.66,"c2":1.256}]},"mark":{"type":"rule","color":"black","strokeWidth":1},
   "encoding":{"x2":{"field":"t2"},"y2":{"field":"c2"}}},
  {"data":{"values":[{"t":5.66,"c":1.256}]},"mark":{"type":"point","shape":"M0,0L-0.28,1L0,0.8L0.28,1Z","size":676,"angle":331,"filled":true,"color":"black","opacity":1,"strokeWidth":0},"encoding":{}},
  {"data":{"values":[{"t":5.47,"c":1.27,"label":"9T"},{"t":6.82,"c":0.783,"label":"0T"}]},"mark":{"type":"text","fontSize":25,"font":"Liberation Sans","color":"black"},
   "encoding":{"text":{"field":"label"}}}
 ]
}
]
}
